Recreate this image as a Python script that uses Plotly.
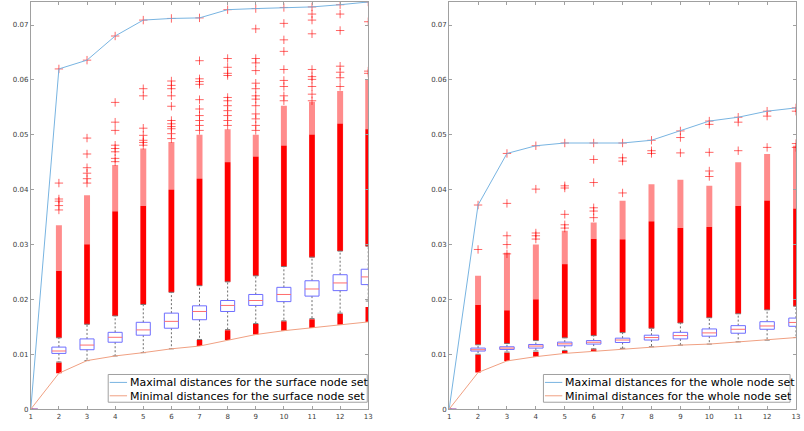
import plotly.graph_objects as go

groups = list(range(1, 14))
tick_vals_y = [0, 0.01, 0.02, 0.03, 0.04, 0.05, 0.06, 0.07]
tick_text_y = ["0", "0.01", "0.02", "0.03", "0.04", "0.05", "0.06", "0.07"]

# ---------------- Left panel: surface node set ----------------
surf_max = [0, 0.0620, 0.0636, 0.0680, 0.0709, 0.0712, 0.0713, 0.0728, 0.0730, 0.0732, 0.0733, 0.0737, 0.0742]
surf_min = [0, 0.00655, 0.00885, 0.0097, 0.0103, 0.0110, 0.0115, 0.0126, 0.0136, 0.0143, 0.0148, 0.0154, 0.0159]
surf_q1 = [0, 0.01016, 0.01083, 0.0122, 0.01348, 0.01475, 0.0163, 0.0178, 0.0189, 0.0196, 0.0206, 0.0216, 0.0227]
surf_med = [0, 0.0106, 0.01168, 0.0131, 0.01444, 0.0160, 0.0178, 0.0189, 0.0198, 0.0209, 0.0219, 0.0230, 0.0241]
surf_q3 = [0, 0.01131, 0.0128, 0.0140, 0.01583, 0.0175, 0.01883, 0.0198, 0.0209, 0.0222, 0.0234, 0.0245, 0.0255]
surf_upper_whisker = [0, 0.0130, 0.01547, 0.0170, 0.01908, 0.0213, 0.0225, 0.0232, 0.0243, 0.0260, 0.0277, 0.0288, 0.0297]
surf_lower_whisker = [0, 0.0086, 0.00885, 0.0097, 0.0103, 0.0110, 0.0127, 0.0145, 0.0156, 0.0161, 0.0165, 0.0175, 0.0197]
surf_low_outlier_top = [None, 0.0085, None, None, None, None, 0.0126, 0.0144, 0.0155, 0.0160, 0.0164, 0.0174, 0.0186]
surf_dense_top = [None, 0.0252, 0.0300, 0.0360, 0.0370, 0.0400, 0.0420, 0.0450, 0.0460, 0.0480, 0.0500, 0.0520, 0.0510]
surf_light_top = [None, 0.0335, 0.0390, 0.0445, 0.0475, 0.0487, 0.0500, 0.0510, 0.0500, 0.0553, 0.0560, 0.0580, 0.0600]
surf_sparse = [
    [],
    [0.0620, 0.0412, 0.0383, 0.0379, 0.0371, 0.0363],
    [0.0636, 0.0494, 0.0465, 0.0440, 0.0430, 0.0420, 0.0412],
    [0.0680, 0.0559, 0.0523, 0.0508, 0.0481, 0.0475, 0.0469, 0.0457, 0.0451],
    [0.0709, 0.0584, 0.0571, 0.0512, 0.0499, 0.0490, 0.0486, 0.0481],
    [0.0712, 0.0598, 0.0590, 0.0584, 0.0571, 0.0552, 0.0526, 0.0520, 0.0515, 0.0511, 0.0502, 0.0493],
    [0.0713, 0.0635, 0.0602, 0.0597, 0.0592, 0.0564, 0.0547, 0.0535, 0.0526, 0.0517, 0.0508],
    [0.0728, 0.0639, 0.0623, 0.0612, 0.0608, 0.0568, 0.0562, 0.0553, 0.0544, 0.0535, 0.0526, 0.0517],
    [0.0730, 0.0693, 0.0639, 0.0631, 0.0617, 0.0594, 0.0584, 0.0571, 0.0565, 0.0553, 0.0538, 0.0529, 0.0517, 0.0508],
    [0.0732, 0.0703, 0.0673, 0.0652, 0.0619, 0.0599, 0.0588, 0.0571, 0.0562],
    [0.0733, 0.0720, 0.0709, 0.0684, 0.0619, 0.0606, 0.0601, 0.0588, 0.0574, 0.0562],
    [0.0737, 0.0720, 0.0690, 0.0625, 0.0614, 0.0604, 0.0588],
    [0.0742, 0.0706, 0.0616, 0.0612],
]

# ---------------- Right panel: whole node set ----------------
whole_max = [0, 0.0372, 0.0466, 0.0480, 0.0485, 0.0485, 0.0485, 0.0490, 0.0507, 0.0525, 0.0532, 0.0543, 0.0549]
whole_min = [0, 0.00668, 0.00879, 0.00957, 0.01016, 0.01052, 0.01095, 0.01137, 0.01167, 0.01186, 0.01227, 0.01258, 0.01305]
whole_q1 = [0, 0.01059, 0.01088, 0.01113, 0.01155, 0.01186, 0.01215, 0.0126, 0.0128, 0.0133, 0.01384, 0.01456, 0.0151]
whole_med = [0, 0.01083, 0.01113, 0.0115, 0.0119, 0.0122, 0.0126, 0.01305, 0.01341, 0.0139, 0.01456, 0.01516, 0.0158]
whole_q3 = [0, 0.01113, 0.01137, 0.01179, 0.01222, 0.0125, 0.01294, 0.01348, 0.0140, 0.01462, 0.01522, 0.01594, 0.0166]
whole_upper_whisker = [0, 0.01173, 0.01197, 0.0125, 0.0130, 0.0134, 0.01395, 0.01475, 0.0157, 0.01666, 0.01738, 0.0181, 0.01877]
whole_lower_whisker = [0, 0.0100, 0.0104, 0.0106, 0.0107, 0.0110, 0.0111, 0.01137, 0.01167, 0.01186, 0.01227, 0.01258, 0.01305]
whole_low_outlier_top = [None, 0.0099, 0.0103, 0.0104, 0.0106, 0.0109, 0.0110, None, None, None, None, None, None]
whole_dense_top = [None, 0.0190, 0.0180, 0.0200, 0.0264, 0.0310, 0.0309, 0.0342, 0.0330, 0.0332, 0.0370, 0.0380, 0.0365]
whole_light_top = [None, 0.0243, 0.0285, 0.0300, 0.0325, 0.0340, 0.0380, 0.0410, 0.0418, 0.0407, 0.0450, 0.0465, 0.0480]
whole_sparse = [
    [],
    [0.0372, 0.0291],
    [0.0466, 0.0375, 0.0316, 0.0300, 0.0283],
    [0.0480, 0.0401, 0.0321, 0.0316, 0.0310],
    [0.0485, 0.0407, 0.0403, 0.0355, 0.0336, 0.0330],
    [0.0485, 0.0455, 0.0413, 0.0367, 0.0361, 0.0349],
    [0.0485, 0.0458, 0.0452, 0.0394],
    [0.0490, 0.0471, 0.0466],
    [0.0507, 0.0495, 0.0467],
    [0.0525, 0.0519, 0.0468, 0.0434, 0.0424],
    [0.0532, 0.0523, 0.0471],
    [0.0543, 0.0534, 0.0477],
    [0.0549, 0.0543, 0.0484, 0.0477],
]

legend_labels_left = ["Maximal distances for the surface node set", "Minimal distances for the surface node set"]
legend_labels_right = ["Maximal distances for the whole node set", "Minimal distances for the whole node set"]

FONT = "DejaVu Sans"
BOX_HALF = 0.25
CAP_HALF = 0.09
MAX_COLOR = "rgb(120,180,225)"
MIN_COLOR = "rgb(240,160,130)"
W, H = 804, 431


def vsegs(xs, lo, hi):
    X, Y = [], []
    for x, a, b in zip(xs, lo, hi):
        if a is None or b is None:
            continue
        X += [x, x, None]
        Y += [a, b, None]
    return X, Y


def hsegs(xs, ys, half):
    X, Y = [], []
    for x, y in zip(xs, ys):
        if y is None:
            continue
        X += [x - half, x + half, None]
        Y += [y, y, None]
    return X, Y


def add_panel(fig, xa, ya, mx, mn, q1, med, q3, uw, lw, lot, dtop, ltop, sparse, labels):
    kw = dict(xaxis=xa, yaxis=ya, showlegend=False, hoverinfo="skip")
    X, Y = vsegs(groups, [u if t is not None else None for u, t in zip(uw, ltop)], ltop)
    fig.add_trace(go.Scatter(x=X, y=Y, mode="lines", line=dict(color="rgba(255,0,0,0.45)", width=6), **kw))
    X, Y = vsegs(groups, [u if t is not None else None for u, t in zip(uw, dtop)], dtop)
    fig.add_trace(go.Scatter(x=X, y=Y, mode="lines", line=dict(color="rgb(255,0,0)", width=5.5), **kw))
    X, Y = vsegs(groups, lot, [m if t is not None else None for m, t in zip(mn, lot)])
    fig.add_trace(go.Scatter(x=X, y=Y, mode="lines", line=dict(color="rgb(255,0,0)", width=5.5), **kw))
    SX, SY = [], []
    for g, vals in zip(groups, sparse):
        SX += [g] * len(vals)
        SY += vals
    fig.add_trace(go.Scatter(x=SX, y=SY, mode="markers",
                             marker=dict(symbol="cross-thin", size=6, line=dict(color="rgba(255,0,0,0.6)", width=1)),
                             **kw))
    X1, Y1 = vsegs(groups, q3, uw)
    X2, Y2 = vsegs(groups, q1, lw)
    fig.add_trace(go.Scatter(x=X1 + X2, y=Y1 + Y2, mode="lines",
                             line=dict(color="rgb(110,110,110)", width=1, dash="2px,2px"), **kw))
    X1, Y1 = hsegs(groups, uw, CAP_HALF)
    X2, Y2 = hsegs(groups, lw, CAP_HALF)
    fig.add_trace(go.Scatter(x=X1 + X2, y=Y1 + Y2, mode="lines",
                             line=dict(color="rgb(120,120,120)", width=1), **kw))
    BX, BY = [], []
    for g, a, b in zip(groups, q1, q3):
        BX += [g - BOX_HALF, g + BOX_HALF, g + BOX_HALF, g - BOX_HALF, g - BOX_HALF, None]
        BY += [a, a, b, b, a, None]
    fig.add_trace(go.Scatter(x=BX, y=BY, mode="lines", line=dict(color="rgb(110,110,255)", width=1), **kw))
    X, Y = hsegs(groups, med, BOX_HALF)
    fig.add_trace(go.Scatter(x=X, y=Y, mode="lines", line=dict(color="rgb(255,110,110)", width=1), **kw))
    fig.add_trace(go.Scatter(x=groups, y=mx, mode="lines", name=labels[0],
                             line=dict(color=MAX_COLOR, width=1), **kw))
    fig.add_trace(go.Scatter(x=groups, y=mn, mode="lines", name=labels[1],
                             line=dict(color=MIN_COLOR, width=1), **kw))


def legend_items(x0, x1, y0, y1, labels):
    """Compact MATLAB-like legend box (pixel positions converted to paper)."""
    px = lambda v: v / W
    py = lambda v: 1 - v / H
    shapes = [dict(type="rect", xref="paper", yref="paper", x0=px(x0), x1=px(x1), y0=py(y1), y1=py(y0),
                   fillcolor="white", line=dict(color="rgb(160,160,160)", width=1), layer="above")]
    annots = []
    rows = [y0 + 8, y0 + 21.5]
    for row, lab, col in zip(rows, labels, [MAX_COLOR, MIN_COLOR]):
        shapes.append(dict(type="line", xref="paper", yref="paper", x0=px(x0 + 1.5), x1=px(x0 + 19),
                           y0=py(row), y1=py(row), line=dict(color=col, width=1), layer="above"))
        annots.append(dict(xref="paper", yref="paper", x=px(x0 + 19.5), y=py(row + 0.5), text=lab,
                           showarrow=False, xanchor="left", yanchor="middle",
                           font=dict(family=FONT, size=11, color="black")))
    return shapes, annots


fig = go.Figure()
add_panel(fig, "x", "y", surf_max, surf_min, surf_q1, surf_med, surf_q3,
          surf_upper_whisker, surf_lower_whisker, surf_low_outlier_top, surf_dense_top,
          surf_light_top, surf_sparse, legend_labels_left)
add_panel(fig, "x2", "y2", whole_max, whole_min, whole_q1, whole_med, whole_q3,
          whole_upper_whisker, whole_lower_whisker, whole_low_outlier_top, whole_dense_top,
          whole_light_top, whole_sparse, legend_labels_right)

ydom = [1 - 413 / H, 1 - 2 / H]
axis_common = dict(showline=True, mirror="ticks", linecolor="rgb(160,160,160)", linewidth=1,
                   ticks="inside", ticklen=3, tickcolor="rgb(160,160,160)", showgrid=False,
                   zeroline=False, tickfont=dict(family=FONT, size=7, color="rgb(60,60,60)"))
xaxis_common = dict(axis_common, range=[1, 13], tickmode="array", tickvals=groups,
                    ticktext=[str(g) for g in groups])
yaxis_common = dict(axis_common, range=[0, 0.0742], tickmode="array", tickvals=tick_vals_y,
                    ticktext=tick_text_y)

s1, a1 = legend_items(107, 368, 378, 406, legend_labels_left)
s2, a2 = legend_items(545.5, 794, 378, 406, legend_labels_right)

fig.update_layout(
    width=W, height=H,
    margin=dict(l=0, r=0, t=0, b=0),
    paper_bgcolor="white", plot_bgcolor="white",
    font=dict(family=FONT),
    showlegend=False,
    xaxis=dict(xaxis_common, domain=[29 / W, 369 / W], anchor="y"),
    yaxis=dict(yaxis_common, domain=ydom, anchor="x"),
    xaxis2=dict(xaxis_common, domain=[450.5 / W, 800 / W], anchor="y2"),
    yaxis2=dict(yaxis_common, domain=ydom, anchor="x2"),
    shapes=s1 + s2,
    annotations=a1 + a2,
)

fig.write_html("out.html")
